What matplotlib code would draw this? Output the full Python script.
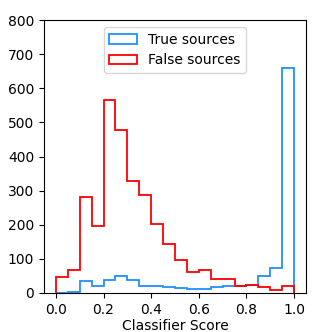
import numpy as np
import matplotlib
matplotlib.use('Agg')
import matplotlib.pyplot as plt

# histogram counts, 20 bins of width 0.05
bin_edges = np.linspace(0.0, 1.0, 21)
true_counts = [0, 2, 34, 20, 37, 49, 39, 21, 21, 19, 16, 13, 13, 17, 21, 21, 23, 50, 74, 658]
false_counts = [46, 66, 280, 196, 565, 477, 328, 286, 201, 145, 96, 63, 68, 42, 42, 21, 23, 18, 10, 20]

centers = (bin_edges[:-1] + bin_edges[1:]) / 2

fig = plt.figure(figsize=(3.32, 3.32), dpi=100)
ax = fig.add_axes([44 / 332, 1 - 293 / 332, 262 / 332, 273 / 332])

ax.hist(centers, bins=bin_edges, weights=true_counts, histtype='step',
        color='#1E90FF', linewidth=1.3, label='True sources')
ax.hist(centers, bins=bin_edges, weights=false_counts, histtype='step',
        color='red', linewidth=1.3, label='False sources')

ax.set_ylim(0, 800)
ax.set_yticks(range(0, 801, 100))
ax.set_xticks([0.0, 0.2, 0.4, 0.6, 0.8, 1.0])
ax.tick_params(labelsize=10)
ax.set_xlabel('Classifier Score', fontsize=10, labelpad=1.5)
ax.legend(loc='upper center', fontsize=10)

fig.savefig('out.png', dpi=100)
